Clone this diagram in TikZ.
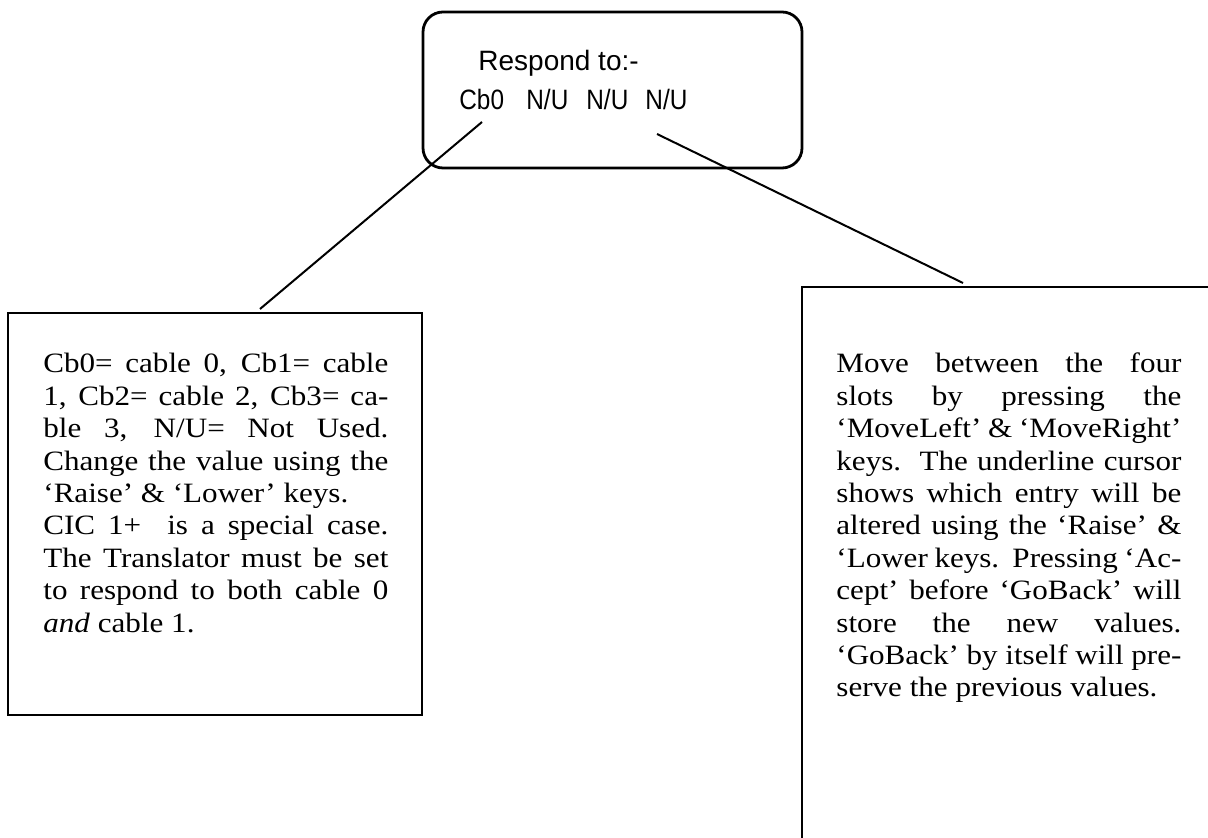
\documentclass[tikz,border=0pt]{standalone}
\usepackage{fontspec}
\setmainfont{Liberation Serif}
\newfontfamily\notefont[FakeStretch=1.11]{Liberation Serif}
\newfontfamily\panelfont{Liberation Sans}
\setlength{\parindent}{0pt}
% a note: lines stacked one under another, full lines spread to the width
\newcommand{\notepara}[1]{\parbox[t]{172.5pt}{\notefont\fontsize{14}{16.2}\selectfont #1}}
\newcommand{\fullline}[1]{\hbox to\hsize{#1}}
\newcommand{\lastline}[1]{\hbox{#1}}
\begin{document}
\begin{tikzpicture}[x=0.5pt,y=-0.5pt,
  frame/.style={draw,line width=1.4pt,inner sep=0pt},
  leader/.style={line width=1pt},
  note/.style={anchor=base west,inner sep=0pt},
  lcd/.style={anchor=base west,inner sep=0pt,font=\panelfont\fontsize{14}{14}\selectfont}]
\useasboundingbox (0,0) rectangle (1208,838);
\clip (0,0) rectangle (1208,838);

% display panel
\node[frame,rounded corners=10pt,minimum width=189.5pt,minimum height=78pt] (display) at (612.5,90) {};
\node[lcd] (title) at (478,71) {Respond to:-};
\node[lcd] (slot0) at (459,110) {\scalebox{0.87}[1]{Cb0}};
\node[lcd] (slot1) at (526,110) {\scalebox{0.87}[1]{N/U}};
\node[lcd] (slot2) at (586,110) {\scalebox{0.87}[1]{N/U}};
\node[lcd] (slot3) at (645,110) {\scalebox{0.87}[1]{N/U}};

% left note
\node[frame,minimum width=207pt,minimum height=201pt] (leftbox) at (215,514) {};
\node[note] (lefttext) at (43,373) {\notepara{%
\fullline{Cb0= cable 0, Cb1= cable}
\fullline{1, Cb2= cable 2, Cb3= ca-}
\fullline{ble 3, N/U= Not Used.}
\fullline{Change the value using the}
\lastline{‘Raise’ \& ‘Lower’ keys.}
\fullline{CIC 1+\ \ is a special case.}
\fullline{The Translator must be set}
\fullline{to respond to both cable 0}
\lastline{\emph{and} cable 1.}}};

% right note (runs off the page to the right and below)
\coordinate (rbTR) at (1210,287);
\coordinate (rbTL) at (802,287);
\coordinate (rbBL) at (802,840);
\draw[line width=1.4pt] (rbTR) -- (rbTL) -- (rbBL);
\node[note] (righttext) at (836,373) {\notepara{%
\fullline{Move between the four}
\fullline{slots by pressing the}
\fullline{‘MoveLeft’ \& ‘MoveRight’}
\fullline{keys.\ \ The underline cursor}
\fullline{shows which entry will be}
\fullline{altered using the ‘Raise’ \&}
\fullline{‘Lower keys.\ \ Pressing ‘Ac-}
\fullline{cept’ before ‘GoBack’ will}
\fullline{store the new values.}
\fullline{‘GoBack’ by itself will pre-}
\lastline{serve the previous values.}}};

% leader lines
\coordinate (cb0pt) at (482,122);
\coordinate (nupt) at (657,134);
\coordinate (lefttip) at (260,309);
\coordinate (righttip) at (963,283);
\draw[leader] (cb0pt) -- (lefttip);
\draw[leader] (nupt) -- (righttip);
\end{tikzpicture}
\end{document}
